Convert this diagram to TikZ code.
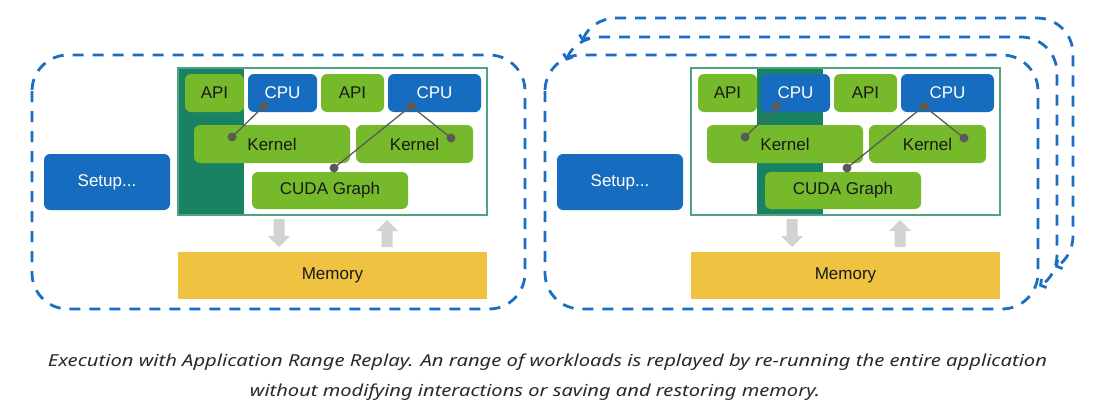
\documentclass[tikz,border=0pt]{standalone}
\usepackage{graphicx}
\usepackage{fontspec}
\setmainfont{Liberation Sans}
\newfontfamily\capfont{Noto Sans}
\usetikzlibrary{arrows.meta}
\definecolor{nvblue}{HTML}{166CBE}
\definecolor{dashblue}{HTML}{1A6EC4}
\definecolor{nvgreen}{HTML}{76B92A}
\definecolor{darkstrip}{HTML}{188262}
\definecolor{framegreen}{HTML}{4FA383}
\definecolor{memyellow}{HTML}{F0C242}
\definecolor{arrowgray}{HTML}{D2D2D2}
\definecolor{dotgray}{HTML}{5A5A5A}
\definecolor{captext}{HTML}{2A2A2A}
\tikzset{
  wh/.style 2 args={minimum width=#1pt, minimum height=#2pt},
  box/.style={rectangle, rounded corners=6pt, inner sep=0pt, font=\fontsize{17}{20}\selectfont},
  gbox/.style={box, fill=nvgreen, text=black!90},
  bbox/.style={box, fill=nvblue, text=white},
  membox/.style={rectangle, inner sep=0pt, fill=memyellow, text=black!90, font=\fontsize{17}{20}\selectfont},
  framebox/.style={rectangle, inner sep=0pt, draw=framegreen, line width=1.5pt},
  garrow/.style={fill=arrowgray},
  conn/.style={draw=dotgray, line width=1.3pt},
  loopline/.style={draw=dashblue, line width=2.8pt, dash pattern=on 11pt off 9pt},
  looprect/.style={loopline, rounded corners=36pt},
  barb/.style={{Straight Barb[length=4pt,width=10pt]}-{Straight Barb[length=4pt,width=10pt]}},
}
% block arrow pointing down, tip at (#1,#2), tail 28 above
\newcommand\arrowdownat[2]{\fill[garrow] (#1-5.5,#2+28) -- (#1+5.5,#2+28) -- (#1+5.5,#2+11) -- (#1+11,#2+11) -- (#1,#2) -- (#1-11,#2+11) -- (#1-5.5,#2+11) -- cycle;}
% block arrow pointing up, tip at (#1,#2), tail 27 below
\newcommand\arrowupat[2]{\fill[garrow] (#1-5.5,#2-27) -- (#1+5.5,#2-27) -- (#1+5.5,#2-11) -- (#1+11,#2-11) -- (#1,#2) -- (#1-11,#2-11) -- (#1-5.5,#2-11) -- cycle;}
\newcommand\drawpanel[3]{%
\begin{scope}[xshift=#2pt]
  \node[bbox, wh={126}{56}] (#1setup) at (107,-182) {Setup...};
  \fill[white] (178,-68) rectangle (487,-215);
  \fill[darkstrip] (#3,-68) rectangle ++(66,-147);
  \node[framebox, wh={309}{147}] (#1frame) at (332.5,-141.5) {};
  \node[gbox, wh={59}{38}] (#1apia) at (214.5,-93) {API};
  \node[bbox, wh={69}{38}] (#1cpua) at (282.5,-93) {CPU};
  \node[gbox, wh={63}{38}] (#1apib) at (352.5,-93) {API};
  \node[bbox, wh={93}{38}] (#1cpub) at (434.5,-93) {CPU};
  \node[gbox, wh={156}{38}] (#1kera) at (272,-144) {Kernel};
  \node[gbox, wh={117}{38}] (#1kerb) at (414.5,-144) {Kernel};
  \node[gbox, wh={156}{37}] (#1graph) at (330,-190.5) {CUDA Graph};
  \node[membox, wh={309}{47}] (#1mem) at (332.5,-275.5) {Memory};
  \arrowdownat{279}{-247}
  \arrowupat{387}{-220}
  \coordinate (#1da) at (264,-106);
  \coordinate (#1db) at (232,-137);
  \coordinate (#1dc) at (411,-106);
  \coordinate (#1dd) at (451,-138);
  \coordinate (#1de) at (334,-168);
  \draw[conn] (#1da) -- (#1db);
  \draw[conn] (#1dc) -- (#1dd);
  \draw[conn] (#1dc) -- (#1de);
  \foreach \d in {da,db,dc,dd,de} \fill[dotgray] (#1\d) circle[radius=4.5pt];
\end{scope}}
\begin{document}
\begin{tikzpicture}[x=1pt,y=1pt]
\useasboundingbox (0,0) rectangle (1104,-407);
\fill[white] (0,0) rectangle (1104,-407);
% left panel
\draw[looprect] (32,-55) rectangle (525,-309);
\drawpanel{L}{0}{178}
% right panel: back loops
\draw[loopline, barb] (582.2,-41.7) arc[start angle=160, end angle=90, radius=36pt]
  -- (1037,-18) arc[start angle=90, end angle=0, radius=36pt]
  -- (1073,-236) arc[start angle=0, end angle=-60, radius=36pt];
\draw[loopline, barb] (566.2,-60.7) arc[start angle=160, end angle=90, radius=36pt]
  -- (1021,-37) arc[start angle=90, end angle=0, radius=36pt]
  -- (1057,-255) arc[start angle=0, end angle=-60, radius=36pt];
\draw[looprect] (545,-55) rectangle (1038,-309);
\drawpanel{R}{513}{244}
% caption
\node[anchor=base, text=captext, inner sep=0pt] (capa) at (547.5,-366)
  {\resizebox{999pt}{\height}{\capfont\itshape\fontsize{16.5}{20}\selectfont Execution with Application Range Replay. An range of workloads is replayed by re-running the entire application}};
\node[anchor=base, text=captext, inner sep=0pt] (capb) at (535,-396)
  {\resizebox{570pt}{\height}{\capfont\itshape\fontsize{16.5}{20}\selectfont without modifying interactions or saving and restoring memory.}};
\end{tikzpicture}
\end{document}
